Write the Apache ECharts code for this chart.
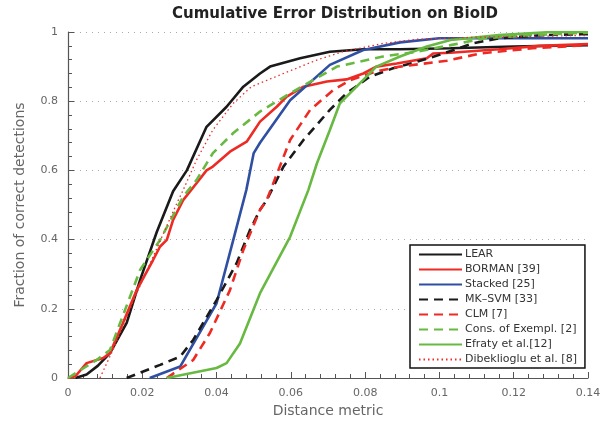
<!DOCTYPE html>
<html>
<head>
<meta charset="utf-8">
<script src="https://cdn.jsdelivr.net/npm/echarts@6/dist/echarts.min.js"></script>
<style>
  html, body { margin: 0; padding: 0; background: #fff; }
  #ced { width: 606px; height: 425px; }
</style>
</head>
<body>
<div id="ced"></div>
<script>
// curves, [distance, fraction]
var lear = [[0.002,0],[0.005,0.01],[0.008,0.035],[0.0113,0.072],[0.0158,0.159],[0.0194,0.283],[0.0239,0.422],[0.0283,0.54],[0.032,0.60],[0.0373,0.726],[0.0427,0.784],[0.0472,0.842],[0.0517,0.88],[0.0544,0.90],[0.0625,0.924],[0.0705,0.943],[0.0795,0.95],[0.0894,0.95],[0.103,0.953],[0.12,0.958],[0.14,0.962]];
var borman = [[0,0],[0.002,0.005],[0.005,0.043],[0.0095,0.058],[0.0113,0.072],[0.0148,0.159],[0.0185,0.254],[0.0229,0.341],[0.0248,0.38],[0.0266,0.399],[0.0283,0.457],[0.031,0.514],[0.0346,0.563],[0.0373,0.60],[0.039,0.611],[0.0436,0.654],[0.0481,0.683],[0.049,0.697],[0.0517,0.741],[0.0562,0.784],[0.0589,0.813],[0.0634,0.842],[0.0697,0.857],[0.075,0.863],[0.0795,0.88],[0.083,0.90],[0.0885,0.909],[0.0939,0.919],[0.0966,0.924],[0.0983,0.938],[0.103,0.940],[0.116,0.95],[0.127,0.96],[0.14,0.965]];
var stacked = [[0.022,0],[0.0302,0.033],[0.040,0.216],[0.0445,0.399],[0.048,0.543],[0.050,0.65],[0.0517,0.68],[0.0598,0.803],[0.0705,0.905],[0.0795,0.948],[0.0894,0.97],[0.1,0.982],[0.14,0.982]];
var mksvm = [[0.0158,0],[0.0248,0.038],[0.0302,0.062],[0.0337,0.11],[0.040,0.225],[0.0454,0.332],[0.049,0.428],[0.0517,0.486],[0.0535,0.514],[0.058,0.611],[0.0634,0.688],[0.0705,0.775],[0.075,0.823],[0.0813,0.871],[0.0875,0.895],[0.0939,0.914],[0.100,0.934],[0.109,0.967],[0.116,0.982],[0.128,0.991],[0.14,0.994]];
var clm = [[0.0266,0],[0.0337,0.052],[0.0382,0.13],[0.0436,0.254],[0.0472,0.37],[0.0517,0.486],[0.0535,0.514],[0.0598,0.688],[0.0652,0.775],[0.0714,0.832],[0.076,0.861],[0.083,0.886],[0.0894,0.90],[0.102,0.917],[0.111,0.938],[0.125,0.953],[0.14,0.962]];
var consExempl = [[0,0],[0.0005,0.004],[0.0077,0.052],[0.0113,0.081],[0.0194,0.312],[0.0248,0.399],[0.031,0.524],[0.0346,0.572],[0.039,0.65],[0.0445,0.708],[0.0517,0.77],[0.0598,0.823],[0.0724,0.90],[0.0848,0.929],[0.0939,0.943],[0.103,0.962],[0.112,0.982],[0.125,0.991],[0.14,0.998]];
var efraty = [[0.0266,0],[0.040,0.029],[0.0427,0.043],[0.0463,0.10],[0.0517,0.245],[0.0598,0.408],[0.0647,0.543],[0.067,0.62],[0.0705,0.717],[0.0732,0.794],[0.0777,0.842],[0.083,0.90],[0.0894,0.929],[0.0966,0.958],[0.103,0.977],[0.116,0.991],[0.13,1.0],[0.14,1.0]];
var dibek = [[0.0086,0],[0.0121,0.081],[0.0185,0.245],[0.0229,0.35],[0.0293,0.505],[0.031,0.543],[0.0346,0.63],[0.039,0.717],[0.0445,0.794],[0.0494,0.842],[0.058,0.88],[0.067,0.919],[0.074,0.943],[0.0848,0.967],[0.0939,0.979],[0.11,0.985],[0.14,0.99]];

var names = ['LEAR', 'BORMAN [39]', 'Stacked [25]', 'MK\u2013SVM [33]', 'CLM [7]', 'Cons. of Exempl. [2]', 'Efraty et al.[12]', 'Dibeklioglu et al. [8]'];

var black = '#1a1a1a', red = '#ee2a24', blue = '#2f4fa2', green = '#68b942';

function curve(name, data, color, type, width) {
    return {
        name: name,
        type: 'line',
        data: data,
        symbol: 'none',
        smooth: false,
        animation: false,
        lineStyle: { color: color, width: width || 2.6, type: type },
        itemStyle: { color: color }
    };
}

var chart = echarts.init(document.getElementById('ced'));
var axisGrey = '#555';

var option = {
    backgroundColor: '#fff',
    title: {
        text: 'Cumulative Error Distribution on BioID',
        left: 330, top: 2, textAlign: 'center',
        textStyle: { fontFamily: 'DejaVu Sans', fontWeight: 'bold', fontSize: 15, color: '#222' }
    },
    grid: { left: 68, right: 18, top: 32, bottom: 47 },
    legend: {
        orient: 'vertical',
        left: 410, top: 245,
        width: 172,
        data: names,
        backgroundColor: '#fff',
        borderColor: '#111',
        borderWidth: 1.5,
        borderRadius: 0,
        padding: [4, 8, 3, 8],
        itemWidth: 43, itemHeight: 10, itemGap: 4,
        itemStyle: { opacity: 0 },
        textStyle: { fontFamily: 'DejaVu Sans', fontSize: 11, color: '#333', padding: [0, 0, 0, -2] }
    },
    xAxis: {
        type: 'value',
        min: 0, max: 0.14, interval: 0.02,
        name: 'Distance metric',
        nameLocation: 'middle', nameGap: 26,
        nameTextStyle: { fontFamily: 'DejaVu Sans', fontSize: 14, color: '#666' },
        axisLine: { show: true, lineStyle: { color: axisGrey, width: 1.2 } },
        axisTick: { show: true, inside: true, length: 6, lineStyle: { color: axisGrey } },
        minorTick: { show: true, splitNumber: 5, length: 4, lineStyle: { color: axisGrey } },
        axisLabel: { fontFamily: 'DejaVu Sans', fontSize: 11, color: '#666', margin: 10 },
        splitLine: { show: false }
    },
    yAxis: {
        type: 'value',
        min: 0, max: 1, interval: 0.2,
        name: 'Fraction of correct detections',
        nameLocation: 'middle', nameGap: 41,
        nameTextStyle: { fontFamily: 'DejaVu Sans', fontSize: 14, color: '#666' },
        axisLine: { show: true, lineStyle: { color: axisGrey, width: 1.2 } },
        axisTick: { show: true, inside: true, length: 6, lineStyle: { color: axisGrey } },
        minorTick: { show: true, splitNumber: 5, length: 4, lineStyle: { color: axisGrey } },
        axisLabel: { fontFamily: 'DejaVu Sans', fontSize: 11, color: '#666', margin: 10 },
        splitLine: { show: true, lineStyle: { color: '#aaa', type: [1, 5], width: 1 } }
    },
    series: [
        curve(names[0], lear, black, 'solid'),
        curve(names[1], borman, red, 'solid'),
        curve(names[2], stacked, blue, 'solid'),
        curve(names[3], mksvm, black, [9, 6]),
        curve(names[4], clm, red, [9, 6]),
        curve(names[5], consExempl, green, [9, 6]),
        curve(names[6], efraty, green, 'solid'),
        curve(names[7], dibek, red, [1.5, 3], 1.3)
    ]
};

chart.setOption(option);
window.addEventListener('resize', chart.resize);
</script>
</body>
</html>
